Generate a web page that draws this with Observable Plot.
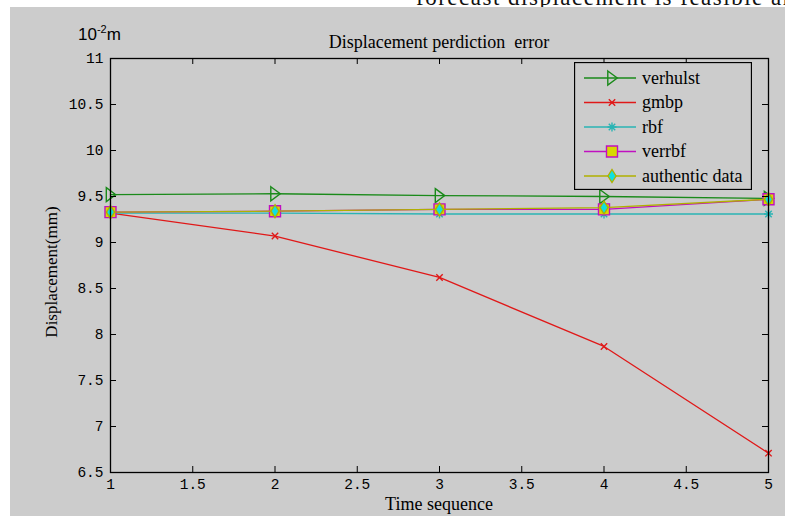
<!DOCTYPE html>
<html><head><meta charset="utf-8">
<script src="https://cdn.jsdelivr.net/npm/d3@7"></script>
<script src="https://cdn.jsdelivr.net/npm/@observablehq/plot@0.6"></script>
<style>
html,body{margin:0;padding:0;background:#fff;width:785px;height:516px;overflow:hidden;}
#page{position:relative;width:785px;height:516px;}
#strip{position:absolute;left:0;top:0;width:785px;height:8px;overflow:hidden;background:#fff;}
#strip span{position:absolute;left:416px;top:-15px;font:23px "Liberation Serif";letter-spacing:1.5px;white-space:nowrap;color:#111;}
#panel{position:absolute;left:10px;top:7px;width:775px;height:509px;background:#cccccc;}
#chart{position:absolute;left:0;top:0;}
.txt{position:absolute;font-family:"Liberation Serif";color:#000;white-space:nowrap;}
#title{left:110px;width:658px;top:33px;text-align:center;font-size:18px;line-height:18px;}
#expo{left:78px;top:21px;font-size:17px;line-height:17px;font-family:"Liberation Sans";}
#expo sup{font-size:11px;vertical-align:7px;}
#ylab{left:52px;top:272px;font-size:17px;transform:translate(-50%,-50%) rotate(-90deg);}
#xlab{left:110px;width:658px;top:495px;text-align:center;font-size:18px;line-height:18px;}
#legend{position:absolute;left:574px;top:62px;}
</style></head>
<body>
<div id="page">
  <div id="strip"><span>forecast displacement is feasible an</span></div>
  <div id="panel"></div>
  <div id="chart"></div>
  <div class="txt" id="expo">10<sup>-2</sup>m</div>
  <div class="txt" id="title">Displacement perdiction&nbsp; error</div>
  <div class="txt" id="ylab">Displacement(mm)</div>
  <div class="txt" id="xlab">Time sequence</div>
  <div id="legend"></div>
</div>
<script>
// ---- data ----
const timeSeq   = [1, 2, 3, 4, 5];
const verhulst  = [9.52, 9.53, 9.51, 9.50, 9.48];
const gmbp      = [9.32, 9.07, 8.62, 7.87, 6.71];
const rbf       = [9.32, 9.32, 9.31, 9.31, 9.31];
const verrbf    = [9.33, 9.34, 9.36, 9.36, 9.47];
const authentic = [9.33, 9.34, 9.36, 9.38, 9.47];
const seriesNames = ["verhulst", "gmbp", "rbf", "verrbf", "authentic data"];
const xTicks = [1, 1.5, 2, 2.5, 3, 3.5, 4, 4.5, 5];
const yTicks = [6.5, 7, 7.5, 8, 8.5, 9, 9.5, 10, 10.5, 11];

// ---- custom marker symbols (size = r^2 * PI in Plot) ----
const R = s => Math.sqrt(s / Math.PI);
const triRight = {draw(c, s){const r=R(s); c.moveTo(-0.6*r,-r); c.lineTo(0.75*r,0); c.lineTo(-0.6*r,r); c.closePath();}};
const diamondTall = {draw(c, s){const r=R(s); c.moveTo(0,-r); c.lineTo(0.62*r,0); c.lineTo(0,r); c.lineTo(-0.62*r,0); c.closePath();}};
const squareSym = {draw(c, s){const r=R(s); c.rect(-r,-r,2*r,2*r);}};
const timesSym = {draw(c, s){const r=R(s); c.moveTo(-r,-r); c.lineTo(r,r); c.moveTo(-r,r); c.lineTo(r,-r);}};
const asterSym = {draw(c, s){const r=R(s); const d=r*0.72; c.moveTo(-r,0); c.lineTo(r,0); c.moveTo(0,-r); c.lineTo(0,r); c.moveTo(-d,-d); c.lineTo(d,d); c.moveTo(-d,d); c.lineTo(d,-d);}};

const styles = {
  "verhulst":       {line:"#1a8a1a", sym:triRight,    r:7,   fill:"none",    stroke:"#1a8a1a"},
  "gmbp":           {line:"#e01818", sym:timesSym,    r:3.2, fill:"none",    stroke:"#e01818"},
  "rbf":            {line:"#2ab4b4", sym:asterSym,    r:4.5, fill:"none",    stroke:"#2ab4b4"},
  "verrbf":         {line:"#c010c0", sym:squareSym,   r:5.5, fill:"#d8d800", stroke:"#c010c0"},
  "authentic data": {line:"#b0b000", sym:diamondTall, r:6.5, fill:"#10e0e0", stroke:"#b0b000"}
};
const allValues = [verhulst, gmbp, rbf, verrbf, authentic];
const rows = [];
seriesNames.forEach((name, i) => timeSeq.forEach((t, j) => rows.push({series: name, t, v: allValues[i][j]})));

const W = 785, H = 516, mL = 110, mR = 17, mT = 58, mB = 44;
const pW = W - mL - mR, pH = H - mT - mB, TK = 6;

const marks = [];
for (const name of seriesNames) {
  const st = styles[name];
  const d = rows.filter(r => r.series === name);
  marks.push(Plot.line(d, {x: "t", y: "v", stroke: st.line, strokeWidth: 1.3}));
  marks.push(Plot.dot(d, {x: "t", y: "v", symbol: st.sym, r: st.r, fill: st.fill, stroke: st.stroke, strokeWidth: 1.4}));
}

const fmt = d => Number.isInteger(d) ? String(d) : d.toFixed(1);
const chart = Plot.plot({
  width: W, height: H,
  marginLeft: mL, marginRight: mR, marginTop: mT, marginBottom: mB,
  style: {background: "transparent", fontFamily: "Liberation Mono", fontSize: "14.5px", color: "#000", overflow: "visible"},
  x: {domain: [1, 5]},
  y: {domain: [6.5, 11]},
  marks: [
    ...marks,
    Plot.tickX(xTicks, {x: d => d, insetTop: pH - TK, stroke: "#000"}),
    Plot.tickX(xTicks, {x: d => d, insetBottom: pH - TK, stroke: "#000"}),
    Plot.tickY(yTicks, {y: d => d, insetRight: pW - TK, stroke: "#000"}),
    Plot.tickY(yTicks, {y: d => d, insetLeft: pW - TK, stroke: "#000"}),
    Plot.axisX(xTicks, {tickSize: 0, tickPadding: 6, label: null, tickFormat: fmt}),
    Plot.axisY(yTicks, {tickSize: 0, tickPadding: 7, label: null, tickFormat: fmt}),
    Plot.frame({stroke: "#000", strokeWidth: 1.3})
  ]
});
document.getElementById("chart").appendChild(chart);

// ---- legend ----
const LW = 178, LH = 128;
const lsvg = d3.select("#legend").append("svg").attr("width", LW).attr("height", LH);
lsvg.append("rect").attr("x", 0.5).attr("y", 0.5).attr("width", LW - 1).attr("height", LH - 1)
  .attr("fill", "#cccccc").attr("stroke", "#000").attr("stroke-width", 1.3);
seriesNames.forEach((name, i) => {
  const st = styles[name];
  const y = 16 + i * 24.5;
  const g = lsvg.append("g").attr("transform", `translate(0,${y})`);
  g.append("line").attr("x1", 10).attr("x2", 62).attr("y1", 0).attr("y2", 0).attr("stroke", st.line).attr("stroke-width", 1.3);
  g.append("path").attr("transform", "translate(38,0)")
    .attr("d", d3.symbol(st.sym, st.r * st.r * Math.PI)())
    .attr("fill", st.fill).attr("stroke", st.stroke).attr("stroke-width", 1.4);
  g.append("text").attr("x", 68).attr("y", 0).attr("dy", "0.32em")
    .attr("font-family", "Liberation Serif").attr("font-size", 18).text(name);
});
</script>
</body></html>
